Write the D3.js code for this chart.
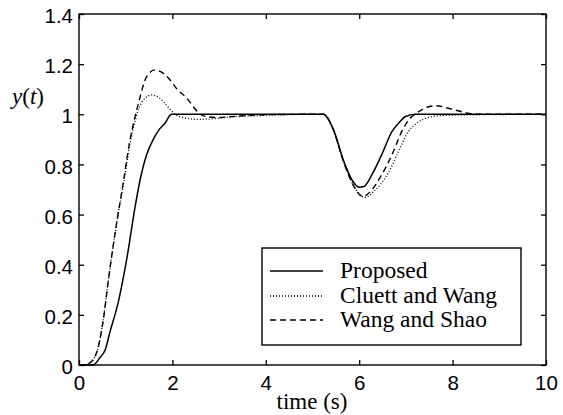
<!DOCTYPE html>
<html><head><meta charset="utf-8">
<script src="https://cdn.jsdelivr.net/npm/d3@7"></script>
<style>
html,body{margin:0;padding:0;background:#fff;}
svg{display:block;}
</style></head>
<body>
<svg id="chart" width="563" height="415"></svg>
<script>
// ---- data ----
const xTicks = [0, 2, 4, 6, 8, 10];
const yTicks = [0, 0.2, 0.4, 0.6, 0.8, 1, 1.2, 1.4];
const seriesNames = ["Proposed", "Cluett and Wang", "Wang and Shao"];

const tProposed = [0, 0.3, 0.45, 0.56, 0.66, 0.84, 1.02, 1.2, 1.31, 1.45, 1.59, 1.72, 1.84, 1.98, 2.5, 3, 4, 5, 5.23, 5.45, 5.66, 5.87, 6.0, 6.1, 6.27, 6.48, 6.7, 6.87, 6.98, 7.2, 8, 9, 10];
const yProposed = [0, 0, 0.03, 0.06, 0.13, 0.25, 0.42, 0.63, 0.74, 0.84, 0.90, 0.94, 0.964, 1.0, 1.0, 1.0, 1.0, 1.0, 1.0, 0.938, 0.818, 0.731, 0.709, 0.712, 0.758, 0.838, 0.931, 0.97, 0.99, 1.0, 1.0, 1.0, 1.0];

const tCluett = [0, 0.15, 0.2, 0.3, 0.41, 0.52, 0.63, 0.72, 0.81, 0.95, 1.09, 1.17, 1.24, 1.38, 1.56, 1.7, 1.81, 1.95, 2.06, 2.25, 2.5, 2.8, 3.2, 3.6, 4.2, 5.0, 5.23, 5.45, 5.66, 5.87, 6.0, 6.12, 6.3, 6.62, 6.84, 7.05, 7.2, 7.34, 7.69, 8.2, 9, 10];
const yCluett = [0, 0, 0.005, 0.02, 0.07, 0.18, 0.34, 0.46, 0.57, 0.72, 0.88, 0.95, 1.0, 1.057, 1.077, 1.068, 1.05, 1.02, 1.0, 0.987, 0.98, 0.981, 0.988, 0.993, 0.997, 1.0, 1.0, 0.937, 0.815, 0.72, 0.682, 0.668, 0.69, 0.765, 0.851, 0.931, 0.96, 0.977, 0.994, 0.997, 0.999, 1.0];

const tWang = [0, 0.15, 0.2, 0.3, 0.41, 0.52, 0.63, 0.72, 0.81, 0.95, 1.09, 1.2, 1.31, 1.41, 1.5, 1.62, 1.75, 1.95, 2.1, 2.31, 2.45, 2.59, 2.75, 2.95, 3.2, 3.6, 4.2, 5.0, 5.23, 5.45, 5.66, 5.87, 6.08, 6.2, 6.48, 6.7, 6.91, 7.09, 7.27, 7.45, 7.65, 7.91, 8.2, 8.52, 9, 10];
const yWang = [0, 0, 0.005, 0.02, 0.07, 0.18, 0.34, 0.46, 0.57, 0.73, 0.895, 0.99, 1.07, 1.135, 1.163, 1.177, 1.17, 1.137, 1.1, 1.064, 1.03, 1.0, 0.99, 0.987, 0.99, 0.995, 0.999, 1.0, 1.0, 0.937, 0.813, 0.718, 0.672, 0.685, 0.758, 0.838, 0.931, 0.984, 1.01, 1.028, 1.034, 1.024, 1.01, 1.0, 1.0, 1.0];

// ---- layout ----
const svg = d3.select("#chart");
const L = 79, R = 546, T = 14, B = 365;
const x = d3.scaleLinear().domain([0, 10]).range([L, R]);
const y = d3.scaleLinear().domain([0, 1.4]).range([B, T]);
const sansFont = "'Liberation Sans', Arial, Helvetica, sans-serif";
const serifFont = "'Liberation Serif', 'Times New Roman', Times, serif";

const series = [
  {name: seriesNames[0], t: tProposed, v: yProposed, dash: null, w: 1.5},
  {name: seriesNames[1], t: tCluett, v: yCluett, dash: "1,2", w: 1.3},
  {name: seriesNames[2], t: tWang, v: yWang, dash: "6,4", w: 1.4}
];

const line = d3.line().x(d => x(d[0])).y(d => y(d[1])).curve(d3.curveMonotoneX);
const plot = svg.append("g");
series.forEach(s => {
  plot.append("path")
    .datum(s.t.map((t, i) => [t, s.v[i]]))
    .attr("d", line)
    .attr("fill", "none")
    .attr("stroke", "#000")
    .attr("stroke-width", s.w)
    .attr("stroke-dasharray", s.dash);
});

// ---- axes (inward ticks, box) ----
function styleAxis(g) {
  g.select(".domain").remove();
  g.selectAll(".tick line").attr("stroke", "#000").attr("stroke-width", 1.3);
  g.selectAll(".tick text").attr("fill", "#000").attr("font-family", sansFont).attr("font-size", 20.5);
}
svg.append("g").attr("transform", `translate(0,${B})`)
  .call(d3.axisBottom(x).tickValues(xTicks).tickSize(-5).tickPadding(10).tickFormat(d3.format("d")))
  .call(styleAxis);
svg.append("g").attr("transform", `translate(0,${T})`)
  .call(d3.axisTop(x).tickValues(xTicks).tickSize(-5).tickFormat(""))
  .call(styleAxis);
svg.append("g").attr("transform", `translate(${L},0)`)
  .call(d3.axisLeft(y).tickValues(yTicks).tickSize(-5).tickPadding(6).tickFormat(d => d === 0 || d === 1 ? d3.format("d")(d) : d3.format(".1f")(d)))
  .call(styleAxis)
  .call(g => g.selectAll(".tick text").attr("dy", "0.42em"));
svg.append("g").attr("transform", `translate(${R},0)`)
  .call(d3.axisRight(y).tickValues(yTicks).tickSize(-5).tickFormat(""))
  .call(styleAxis);

svg.append("rect").attr("x", L).attr("y", T).attr("width", R - L).attr("height", B - T)
  .attr("fill", "none").attr("stroke", "#000").attr("stroke-width", 1.4);

// ---- labels ----
svg.append("text").attr("x", 312).attr("y", 409).attr("text-anchor", "middle")
  .attr("font-family", serifFont).attr("font-size", 23).text("time (s)");
const yl = svg.append("text").attr("x", 12).attr("y", 104)
  .attr("font-family", serifFont).attr("font-size", 23);
yl.append("tspan").attr("font-style", "italic").text("y");
yl.append("tspan").text("(");
yl.append("tspan").attr("font-style", "italic").text("t");
yl.append("tspan").text(")");

// ---- legend ----
const lg = svg.append("g");
lg.append("rect").attr("x", 262).attr("y", 248).attr("width", 259).attr("height", 97)
  .attr("fill", "#fff").attr("stroke", "#000").attr("stroke-width", 1.4);
const rowY = [271, 296, 320];
series.forEach((s, i) => {
  lg.append("line").attr("x1", 270).attr("x2", 323).attr("y1", rowY[i]).attr("y2", rowY[i])
    .attr("stroke", "#000").attr("stroke-width", s.w).attr("stroke-dasharray", s.dash);
  lg.append("text").attr("x", 340).attr("y", rowY[i] + 6.5)
    .attr("font-family", serifFont).attr("font-size", 23.5).text(s.name);
});
</script>
</body></html>
